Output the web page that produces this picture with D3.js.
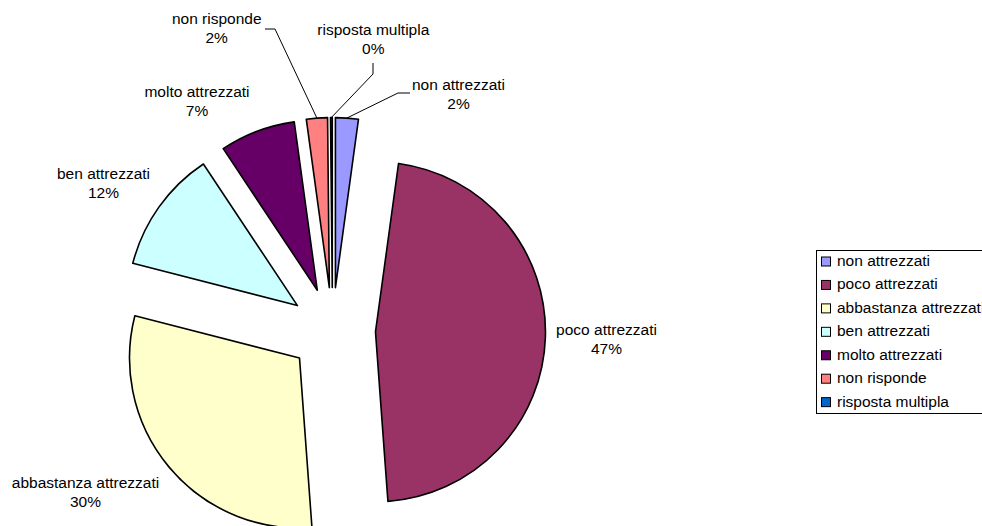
<!DOCTYPE html>
<html>
<head>
<meta charset="utf-8">
<script src="https://cdn.jsdelivr.net/npm/d3@7"></script>
<style>
  html, body { margin: 0; padding: 0; background: #fff; }
  svg { display: block; }
  text { font-family: "Liberation Sans", Arial, sans-serif; font-size: 15.5px; fill: #000; }
</style>
</head>
<body>
<svg id="chart" width="982" height="526"></svg>
<script>
// Survey answers (number of respondents per category)
const categories = ["non attrezzati", "poco attrezzati", "abbastanza attrezzati", "ben attrezzati", "molto attrezzati", "non risponde", "risposta multipla"];
const counts = [13, 280, 181, 70, 43, 12, 1];
const colors = ["#9999FF", "#993366", "#FFFFCC", "#CCFFFF", "#660066", "#FF8080", "#0066CC"];

// Label placement relative to the pie centre: text centre x, first baseline y
const labelOffsets = [
  [126, -240.5], [274, 4.5], [-247, 157.5], [-229, -151.5],
  [-135.5, -233.5], [-115.8, -306.5], [40.8, -295.5]
];
// Leader-line points next to the label (null = no leader line)
const leaderPoints = [
  [[77.5, -237.5], [65.5, -237.5]],
  null, null, null, null,
  [[-67.5, -301.5], [-57.5, -301.5]],
  [[40.5, -267.5], [40.5, -256.5]]
];

const svg = d3.select("#chart");
const cx = 332.5, cy = 330.5, radius = 170, explode = 43;
const lineGap = 19;

const total = d3.sum(counts);
const rows = categories.map((c, i) => ({ name: c, value: counts[i], color: colors[i], i }));

const pie = d3.pie().value(d => d.value).sort(null).startAngle(0).endAngle(2 * Math.PI);
const arc = d3.arc().innerRadius(0).outerRadius(radius);
const arcs = pie(rows);

const g = svg.append("g").attr("transform", `translate(${cx},${cy})`);

function shift(a) {
  const m = (a.startAngle + a.endAngle) / 2;
  return [explode * Math.sin(m), -explode * Math.cos(m)];
}

// Exploded slices
g.selectAll("path.slice")
  .data(arcs)
  .join("path")
  .attr("class", "slice")
  .attr("transform", d => { const [dx, dy] = shift(d); return `translate(${dx},${dy})`; })
  .attr("d", arc)
  .attr("fill", d => d.data.color)
  .attr("stroke", "#000")
  .attr("stroke-width", 1.6)
  .attr("stroke-linejoin", "round");

// Leader lines from labels to the outer edge of their slice
const line = d3.line();
arcs.forEach((d, i) => {
  const pts = leaderPoints[i];
  if (!pts) return;
  const m = (d.startAngle + d.endAngle) / 2;
  const [dx, dy] = shift(d);
  const end = [dx + radius * Math.sin(m), dy - radius * Math.cos(m)];
  g.append("path")
    .attr("d", line([...pts, end]))
    .attr("fill", "none")
    .attr("stroke", "#000")
    .attr("stroke-width", 1);
});

// Category + percentage labels
const labels = g.selectAll("text.lbl")
  .data(arcs)
  .join("text")
  .attr("class", "lbl")
  .attr("text-anchor", "middle")
  .attr("x", (d, i) => labelOffsets[i][0])
  .attr("y", (d, i) => labelOffsets[i][1]);
labels.append("tspan")
  .attr("x", (d, i) => labelOffsets[i][0])
  .text(d => d.data.name);
labels.append("tspan")
  .attr("x", (d, i) => labelOffsets[i][0])
  .attr("dy", lineGap)
  .text(d => Math.round(d.data.value / total * 100) + "%");

// Legend
const legend = svg.append("g").attr("transform", "translate(816.5,250.5)");
legend.append("rect")
  .attr("width", 200).attr("height", 163)
  .attr("fill", "#fff").attr("stroke", "#000").attr("stroke-width", 1);
const item = legend.selectAll("g.item")
  .data(rows)
  .join("g")
  .attr("class", "item")
  .attr("transform", (d, i) => `translate(0,${15.5 + i * 23.44})`);
item.append("rect")
  .attr("x", 5).attr("y", -9)
  .attr("width", 9).attr("height", 9)
  .attr("fill", d => d.color)
  .attr("stroke", "#000").attr("stroke-width", 1);
item.append("text")
  .attr("x", 20.5).attr("y", 0)
  .text(d => d.name);
</script>
</body>
</html>
